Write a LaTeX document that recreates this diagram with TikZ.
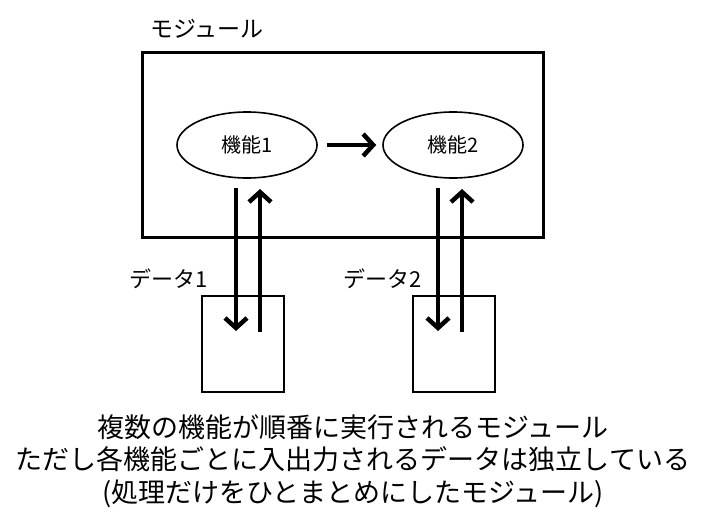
\documentclass[tikz,border=0pt]{standalone}
\usepackage{fontspec}
\setmainfont{Noto Sans CJK JP}
\usetikzlibrary{arrows.meta,shapes.geometric}
\tikzset{
  modbox/.style={draw, line width=3.5pt, minimum width=401pt, minimum height=185pt, inner sep=0pt},
  func/.style={draw, ellipse, line width=1.6pt, minimum width=140pt, minimum height=66pt, inner sep=0pt, font=\fontsize{20}{20}\selectfont},
  databox/.style={draw, line width=2.6pt, minimum width=82pt, minimum height=96pt, inner sep=0pt},
  lbl/.style={font=\fontsize{22}{22}\selectfont, inner sep=0pt},
  flow/.style={line width=4.5pt, -{Straight Barb[length=10pt,width=22pt,line width=4.5pt]}},
  caption/.style={font=\fontsize{27}{32.5}\selectfont, align=center, inner sep=0pt}
}
\begin{document}
\begin{tikzpicture}[x=1pt,y=-1pt]
\useasboundingbox (0,0) rectangle (706,524);
\node[modbox] (module) at (343,145) {};
\node[lbl, anchor=west] (modlbl) at (150,29) {\fontsize{23}{23}\selectfont モジュール};
\node[func] (f1) at (247,145) {機能1};
\node[func] (f2) at (453,145) {機能2};
\draw[flow, shorten <=9pt, shorten >=6pt] (f1) -- (f2);
\node[databox] (d1) at (243,344) {};
\node[databox] (d2) at (454,344) {};
\node[lbl, anchor=west] (d1lbl) at (129,279) {データ1};
\node[lbl, anchor=west] (d2lbl) at (343,279) {データ2};
% data flows
\coordinate (p1a) at (236,188);
\coordinate (p1b) at (236,331);
\coordinate (p2a) at (260,332);
\coordinate (p2b) at (260,189);
\coordinate (q1a) at (438,188);
\coordinate (q1b) at (438,331);
\coordinate (q2a) at (462,332);
\coordinate (q2b) at (462,189);
\draw[flow] (p1a) -- (p1b);
\draw[flow] (p2a) -- (p2b);
\draw[flow] (q1a) -- (q1b);
\draw[flow] (q2a) -- (q2b);
\node[caption] (cap) at (353,461) {複数の機能が順番に実行されるモジュール\\ただし各機能ごとに入出力されるデータは独立している\\(処理だけをひとまとめにしたモジュール)};
\end{tikzpicture}
\end{document}
